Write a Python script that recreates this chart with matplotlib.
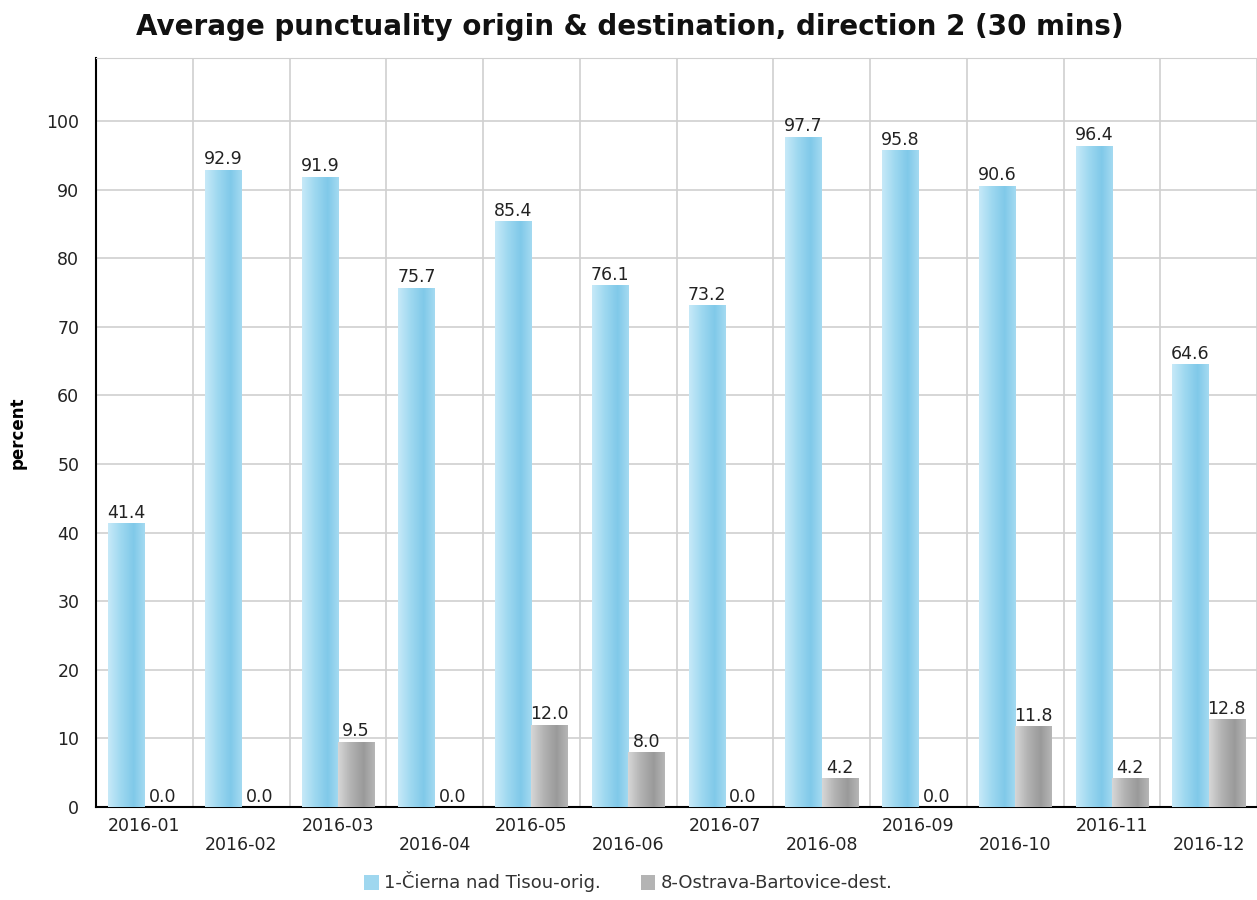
import numpy as np
import matplotlib.pyplot as plt
from matplotlib.colors import LinearSegmentedColormap
from matplotlib.patches import Patch

months = ['2016-01', '2016-02', '2016-03', '2016-04', '2016-05', '2016-06',
          '2016-07', '2016-08', '2016-09', '2016-10', '2016-11', '2016-12']
origin = [41.4, 92.9, 91.9, 75.7, 85.4, 76.1, 73.2, 97.7, 95.8, 90.6, 96.4, 64.6]
dest = [0.0, 0.0, 9.5, 0.0, 12.0, 8.0, 0.0, 4.2, 0.0, 11.8, 4.2, 12.8]
series_names = ['1-Čierna nad Tisou-orig.', '8-Ostrava-Bartovice-dest.']

blue_cmap = LinearSegmentedColormap.from_list(
    'b', [(0, '#c6e9f8'), (0.35, '#9ed8f0'), (0.7, '#80c9e9'), (1, '#a4daf1')])
gray_cmap = LinearSegmentedColormap.from_list(
    'g', [(0, '#d6d6d6'), (0.35, '#b2b2b2'), (0.7, '#9a9a9a'), (1, '#b6b6b6')])

fig = plt.figure(figsize=(12.57, 9), dpi=100)
ax = fig.add_axes([0.0764, 0.1033, 0.9236, 0.8323])

x = np.arange(len(months))
w = 0.375
b1 = ax.bar(x - w / 2, origin, w, color='#87ceeb', zorder=2)
b2 = ax.bar(x + w / 2, dest, w, color='#a8a8a8', zorder=2)

# gradient fill on each bar
grad = np.linspace(0, 1, 64).reshape(1, -1)
for bars, cmap in [(b1, blue_cmap), (b2, gray_cmap)]:
    for p in bars:
        if p.get_height() <= 0:
            continue
        x0, y0 = p.get_x(), p.get_y()
        im = ax.imshow(grad, cmap=cmap, aspect='auto', zorder=3,
                       extent=[x0, x0 + p.get_width(), y0, y0 + p.get_height()])
        im.set_clip_path(p)

for bars in (b1, b2):
    for p in bars:
        ax.text(p.get_x() + p.get_width() / 2, p.get_height() + 0.2,
                f'{p.get_height():.1f}', ha='center', va='bottom',
                fontsize=12.5, color='#222222', zorder=4)

ax.set_xlim(-0.5, len(months) - 0.5)
ax.set_ylim(0, 109.2)
ax.set_yticks(range(0, 101, 10))
ax.set_xticks(x)
ax.set_xticklabels([m if i % 2 == 0 else '\n' + m for i, m in enumerate(months)],
                   fontsize=12.5, color='#222222', linespacing=1.1)
ax.tick_params(axis='y', labelsize=12.5, labelcolor='#222222', length=0, pad=12)
ax.tick_params(axis='x', length=0, pad=7)

ax.set_xticks(np.arange(-0.5, len(months), 1), minor=True)
ax.grid(axis='x', which='minor', color='#d0d0d0', lw=1.2, zorder=0)
ax.grid(axis='y', which='major', color='#d0d0d0', lw=1.2, zorder=0)
ax.tick_params(axis='x', which='minor', length=0)

ax.spines['top'].set_color('#d0d0d0')
ax.spines['right'].set_visible(False)
ax.spines['left'].set_color('black')
ax.spines['bottom'].set_color('black')
ax.spines['left'].set_linewidth(1.5)
ax.spines['bottom'].set_linewidth(1.5)

ax.set_ylabel('percent', fontsize=12, fontweight='bold')
ax.yaxis.set_label_coords(-0.06, 0.5)

fig.text(0.501, 0.97, 'Average punctuality origin & destination, direction 2 (30 mins)',
         ha='center', va='center', fontsize=20, fontweight='bold', color='#111111')

handles = [Patch(facecolor='#9fd7ef'), Patch(facecolor='#b4b4b4')]
fig.legend(handles, series_names, loc='center', bbox_to_anchor=(0.5, 0.02),
           ncol=2, frameon=False, fontsize=13, handlelength=0.8, handleheight=0.9,
           handletextpad=0.3, columnspacing=2.2, labelcolor='#333333')

fig.savefig('out.png', dpi=100)
